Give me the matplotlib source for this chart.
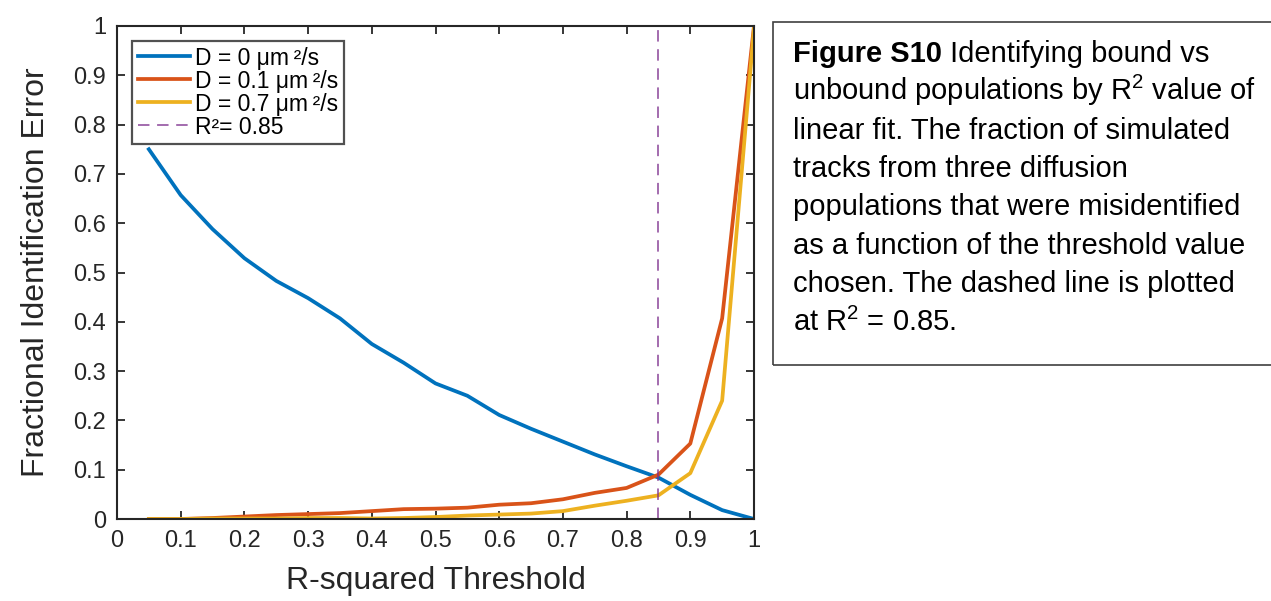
import matplotlib
matplotlib.use("Agg")
import matplotlib.pyplot as plt
from matplotlib.patches import Rectangle

plt.rcParams['font.family'] = ['Liberation Sans', 'DejaVu Sans']
plt.rcParams['mathtext.fontset'] = 'custom'
plt.rcParams['mathtext.rm'] = 'Liberation Sans'
plt.rcParams['mathtext.it'] = 'Liberation Sans:italic'
plt.rcParams['mathtext.bf'] = 'Liberation Sans:bold'

# ---- data ----
thresholds = [0.05, 0.10, 0.15, 0.20, 0.25, 0.30, 0.35, 0.40, 0.45, 0.50,
              0.55, 0.60, 0.65, 0.70, 0.75, 0.80, 0.85, 0.90, 0.95, 1.00]
err_D0 = [0.750, 0.657, 0.588, 0.529, 0.483, 0.448, 0.407, 0.355, 0.317, 0.275,
          0.250, 0.211, 0.183, 0.157, 0.131, 0.107, 0.084, 0.049, 0.018, 0.000]
err_D01 = [0.000, 0.000, 0.002, 0.005, 0.008, 0.010, 0.012, 0.016, 0.020, 0.021,
           0.023, 0.029, 0.032, 0.040, 0.053, 0.063, 0.090, 0.153, 0.407, 1.000]
err_D07 = [0.000, 0.000, 0.001, 0.001, 0.001, 0.002, 0.002, 0.001, 0.002, 0.004,
           0.007, 0.009, 0.011, 0.016, 0.027, 0.037, 0.048, 0.093, 0.240, 0.995]
threshold_line = 0.85
labels = ['D = 0 μm\u2009²/s', 'D = 0.1 μm\u2009²/s', 'D = 0.7 μm\u2009²/s',
          'R²= 0.85']
xticks = [0, 0.1, 0.2, 0.3, 0.4, 0.5, 0.6, 0.7, 0.8, 0.9, 1]
yticks = [0, 0.1, 0.2, 0.3, 0.4, 0.5, 0.6, 0.7, 0.8, 0.9, 1]
xlabel = 'R-squared Threshold'
ylabel = 'Fractional Identification Error'
caption_bold = 'Figure S10'
caption_lines = [' Identifying bound vs',
                 r'unbound populations by R$^{2}$ value of',
                 'linear fit. The fraction of simulated',
                 'tracks from three diffusion',
                 'populations that were misidentified',
                 'as a function of the threshold value',
                 'chosen. The dashed line is plotted',
                 r'at R$^{2}$ = 0.85.']

W, H = 1271, 601
fig = plt.figure(figsize=(W / 100, H / 100), dpi=100)
ax = fig.add_axes([117 / W, 1 - 519 / H, (754 - 117) / W, (519 - 26) / H])

c_blue, c_orange, c_yellow, c_purple = '#0072BD', '#D95319', '#EDB120', '#7E2F8E'
ax.plot(thresholds, err_D0, color=c_blue, lw=2.7, label=labels[0])
ax.plot(thresholds, err_D01, color=c_orange, lw=2.7, label=labels[1])
ax.plot(thresholds, err_D07, color=c_yellow, lw=2.7, label=labels[2])
ax.axvline(threshold_line, color=c_purple, lw=1.1, ls=(0, (7.5, 5)), alpha=0.9,
           label=labels[3])

ax.set_xlim(0, 1)
ax.set_ylim(0, 1)
ax.set_xticks(xticks)
ax.set_yticks(yticks)
ax.set_xticklabels([f'{t:g}' for t in xticks])
ax.set_yticklabels([f'{t:g}' for t in yticks])
ax.tick_params(direction='in', length=6, width=1.3, top=True, right=True,
               labelsize=17, colors='#262626', pad=8)
for s in ax.spines.values():
    s.set_linewidth(1.5)
    s.set_color('#262626')
ax.set_xlabel(xlabel, fontsize=23, color='#262626', labelpad=10)
ax.set_ylabel(ylabel, fontsize=23, color='#262626', labelpad=16)

leg = ax.legend(loc='upper left', bbox_to_anchor=(0.0235, 0.97), fontsize=16.5,
                frameon=True, fancybox=False, edgecolor='#262626',
                handlelength=2.3, handletextpad=0.2, labelspacing=0.0,
                borderpad=0.25, borderaxespad=0)
leg.get_frame().set_linewidth(1.6)

# caption box
fig.patches.append(Rectangle((773 / W, 1 - 365 / H), (W - 773 + 5) / W, (365 - 22) / H,
                             transform=fig.transFigure, fill=False,
                             edgecolor='#404040', lw=1.2))
x0 = 793 / W
baselines = [62, 100, 139, 177, 215, 254, 292, 331]
fsz = 21
tb = fig.text(x0, 1 - baselines[0] / H, caption_bold, fontsize=fsz, weight='bold',
              va='baseline', ha='left')
fig.canvas.draw()
bb = tb.get_window_extent(renderer=fig.canvas.get_renderer())
fig.text(bb.x1 / W, 1 - baselines[0] / H, caption_lines[0], fontsize=fsz,
         va='baseline', ha='left')
for line, b in zip(caption_lines[1:], baselines[1:]):
    fig.text(x0, 1 - b / H, line, fontsize=fsz, va='baseline', ha='left')

fig.savefig('out.png', dpi=100)
